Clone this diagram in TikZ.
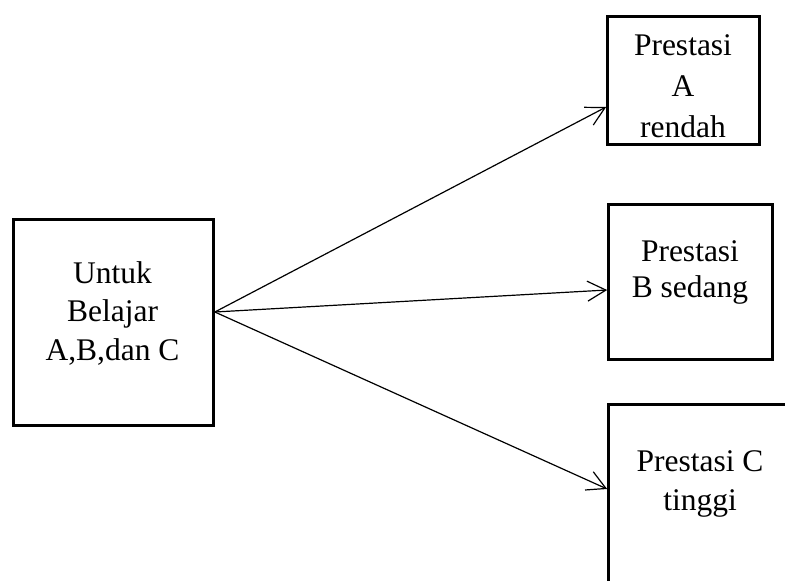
\documentclass[tikz,border=0pt]{standalone}
\usepackage{fontspec}
\setmainfont{Liberation Serif}
\usetikzlibrary{arrows.meta}
\begin{document}
\begin{tikzpicture}[x=1pt,y=-1pt,
  box/.style={draw, line width=2.7pt, inner sep=0pt},
  txt/.style={align=center, font=\fontsize{31.5}{38.5}\selectfont, inner sep=0pt},
  conn/.style={line width=1.2pt, -{Straight Barb[length=18.5pt,width=20pt,line width=1.2pt]}}]
\useasboundingbox (0,0) rectangle (785,581);
\clip (0,0) rectangle (785,581);
\node[box, minimum width=200pt, minimum height=206pt] (L) at (113.5,322.5) {};
\node[box, minimum width=152pt, minimum height=128pt] (T) at (683.5,80.5) {};
\node[box, minimum width=164pt, minimum height=155pt] (M) at (690.5,282) {};
\node[box, minimum width=210pt, minimum height=214pt] (B) at (713.5,511.5) {};
\node[txt] (Lt) at (112.5,313) {Untuk\\Belajar\\A,B,dan C};
\node[txt, font=\fontsize{31.5}{41}\selectfont] (Tt) at (683,86) {Prestasi\\A\\rendah};
\node[txt, font=\fontsize{31.5}{36}\selectfont] (Mt) at (690,272.5) {Prestasi\\B sedang};
\node[txt] (Bt) at (700,484) {Prestasi C\\tinggi};
\coordinate (S) at ([yshift=10.5pt]L.east);
\draw[conn] (S) -- ([yshift=-26.5pt]T.west);
\draw[conn] (S) -- ([yshift=-8pt]M.west);
\draw[conn] (S) -- ([yshift=22.5pt]B.west);
\end{tikzpicture}
\end{document}
